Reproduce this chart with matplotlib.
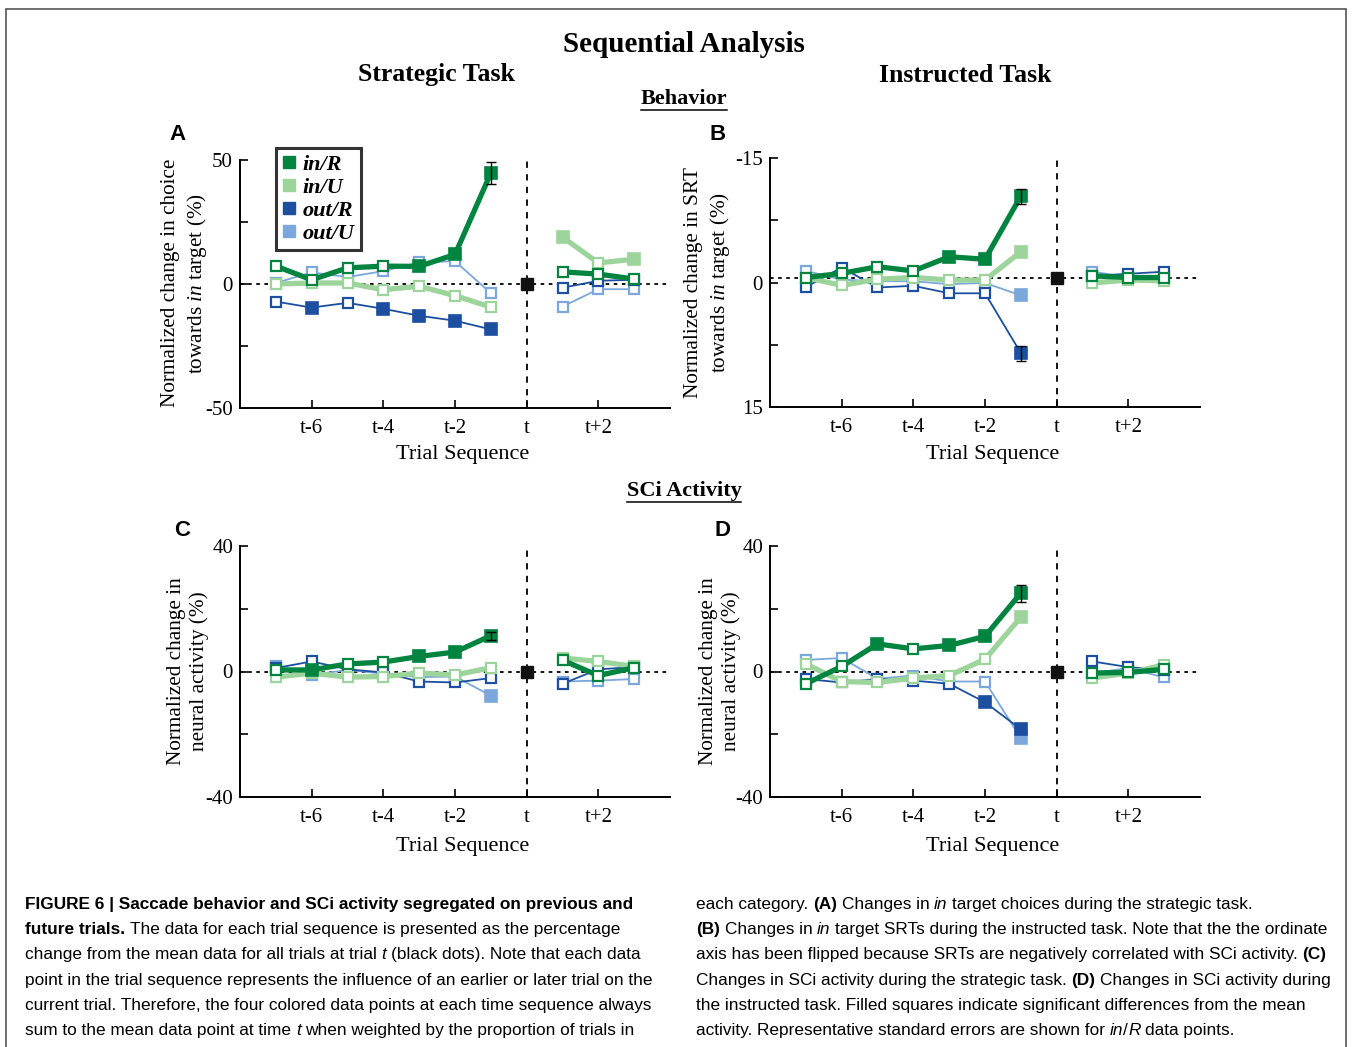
import matplotlib
matplotlib.use("Agg")
import matplotlib.pyplot as plt
import numpy as np
from matplotlib import font_manager
from matplotlib.lines import Line2D
from matplotlib.patches import Rectangle

# trial offsets relative to trial t
x_past = [-7, -6, -5, -4, -3, -2, -1]
x_future = [1, 2, 3]
tick_pos = [-6, -4, -2, 0, 2]
tick_labels = ['t-6', 't-4', 't-2', 't', 't+2']
series_names = ['in/R', 'in/U', 'out/R', 'out/U']

# panel A: choice (%) -- 7 past values then 3 future values
a_in_r = [7.2, 1.7, 6.5, 7.2, 7.1, 11.9, 44.7, 4.9, 4.0, 2.0]
a_in_u = [0.0, 0.4, 0.4, -2.3, -0.9, -4.7, -9.3, 18.9, 8.5, 10.0]
a_out_r = [-7.1, -9.5, -7.6, -10.0, -12.8, -14.8, -18.3, -1.5, 1.3, 1.7]
a_out_u = [0.4, 4.7, 2.8, 5.2, 8.7, 9.2, -3.7, -9.1, -2.1, -2.1]
a_in_r_sig = [0, 0, 0, 0, 1, 1, 1, 0, 0, 0]
a_in_u_sig = [0, 0, 0, 0, 0, 0, 0, 1, 0, 1]
a_out_r_sig = [0, 1, 0, 1, 1, 1, 1, 0, 0, 0]
a_out_u_sig = [0, 0, 0, 0, 0, 0, 0, 0, 0, 0]
a_mean = 0.0
a_err = 4.3

# panel B: SRT (%)
b_in_r = [-0.6, -1.1, -1.9, -1.4, -3.1, -2.8, -10.4, -0.8, -0.6, -0.6]
b_in_u = [-0.6, 0.35, -0.4, -0.6, -0.3, -0.3, -3.7, 0.05, -0.3, -0.2]
b_out_r = [0.55, -1.8, 0.6, 0.4, 1.3, 1.3, 8.5, -0.8, -1.05, -1.3]
b_out_u = [-1.4, -0.35, -0.15, -0.15, 0.2, 0.05, 1.55, -1.3, -0.65, -0.65]
b_in_r_sig = [0, 0, 0, 0, 1, 1, 1, 0, 0, 0]
b_in_u_sig = [0, 0, 0, 0, 0, 0, 1, 0, 0, 0]
b_out_r_sig = [0, 0, 0, 0, 0, 0, 1, 0, 0, 0]
b_out_u_sig = [0, 0, 0, 0, 0, 0, 1, 0, 0, 0]
b_mean = -0.6
b_err = 0.9
b_err_out = 0.9

# panel C: SCi activity, strategic task (%)
c_in_r = [0.5, 0.5, 2.4, 3.0, 4.8, 6.2, 11.4, 3.6, -1.3, 1.2]
c_in_u = [-1.8, -0.5, -1.8, -1.6, -0.5, -1.1, 1.2, 4.3, 3.2, 1.6]
c_out_r = [1.1, 3.2, 0.7, -0.3, -3.2, -3.5, -2.1, -3.9, 0.7, 1.4]
c_out_u = [1.6, -1.1, 0.5, -0.7, -1.8, -1.6, -7.7, -3.2, -2.9, -2.4]
c_in_r_sig = [0, 1, 0, 0, 1, 1, 1, 0, 0, 0]
c_in_u_sig = [0, 0, 0, 0, 0, 0, 0, 0, 0, 0]
c_out_r_sig = [0, 0, 0, 0, 0, 0, 0, 0, 0, 0]
c_out_u_sig = [0, 0, 0, 0, 0, 0, 1, 0, 0, 0]
c_mean = 0.0
c_err = 1.3

# panel D: SCi activity, instructed task (%)
d_in_r = [-3.9, 1.6, 8.8, 7.2, 8.3, 11.2, 25.0, -0.5, -0.3, 0.7]
d_in_u = [2.4, -3.2, -3.5, -2.1, -1.3, 3.9, 17.3, -2.1, -0.5, 2.1]
d_out_r = [-2.4, -3.5, -2.4, -2.9, -3.9, -9.8, -18.4, 3.2, 1.4, 0.5]
d_out_u = [3.7, 4.3, -2.3, -1.3, -3.2, -3.2, -21.3, -0.5, 1.1, -1.9]
d_in_r_sig = [0, 0, 1, 0, 1, 1, 1, 0, 0, 0]
d_in_u_sig = [0, 0, 0, 0, 0, 0, 1, 0, 0, 0]
d_out_r_sig = [0, 0, 0, 0, 0, 1, 1, 0, 0, 0]
d_out_u_sig = [0, 0, 0, 0, 0, 0, 1, 0, 0, 0]
d_mean = 0.0
d_err = 2.7

colors = {'in/R': '#00843f', 'in/U': '#9dd49b', 'out/R': '#1c4f9f', 'out/U': '#7ba7dc'}
widths = {'in/R': 3.8, 'in/U': 3.8, 'out/R': 1.3, 'out/U': 1.3}

W, H = 1354, 1047
plt.rcParams['font.family'] = 'Liberation Serif'
plt.rcParams['font.size'] = 15
plt.rcParams['mathtext.fontset'] = 'custom'
plt.rcParams['mathtext.it'] = 'Liberation Serif:italic'
plt.rcParams['mathtext.rm'] = 'Liberation Serif'

names = {f.name for f in font_manager.fontManager.ttflist}
cap_font = 'Liberation Sans Narrow' if 'Liberation Sans Narrow' in names else 'Liberation Sans'
cap_size = 13 if cap_font == 'Liberation Sans Narrow' else 12.4

fig = plt.figure(figsize=(W / 100, H / 100), dpi=100)
renderer = fig.canvas.get_renderer()


def fx(x):
    return x / W


def fy(y):
    return 1 - y / H


def box(x0, y0, x1, y1):
    return [fx(x0), fy(y1), (x1 - x0) / W, (y1 - y0) / H]


def panel(rect, data, sigs, ylim, yticks, ylabels, mean, errs):
    ax = fig.add_axes(rect)
    ax.set_xlim(-8, 4)
    ax.set_ylim(*ylim)
    for s in ['top', 'right']:
        ax.spines[s].set_visible(False)
    for s in ['left', 'bottom']:
        ax.spines[s].set_linewidth(1.4)
    ax.set_xticks(tick_pos)
    ax.set_xticklabels(tick_labels)
    ax.set_yticks(yticks)
    ax.set_yticklabels(ylabels)
    ax.tick_params(direction='in', length=6, width=1.2, pad=5, labelsize=15)
    ax.tick_params(axis='x', pad=8)
    ax.axhline(mean, color='k', ls=(0, (2, 2.5)), lw=1.3, zorder=1)
    ax.axvline(0, color='k', ls=(0, (3.5, 3.5)), lw=1.3, zorder=1)
    order = ['out/U', 'out/R', 'in/U', 'in/R']
    for k, name in enumerate(order):
        i = series_names.index(name)
        y = np.array(data[i], dtype=float)
        sig = np.array(sigs[i], dtype=bool)
        xs = np.array(x_past + x_future)
        c = colors[name]
        z = 2 + k
        ax.plot(x_past, y[:7], color=c, lw=widths[name], zorder=z, solid_joinstyle='miter')
        ax.plot(x_future, y[7:], color=c, lw=widths[name], zorder=z, solid_joinstyle='miter')
        ax.plot(xs[~sig], y[~sig], 's', ms=7.5, mfc='white', mec=c, mew=1.6, zorder=z + 0.5, ls='none')
        ax.plot(xs[sig], y[sig], 's', ms=8, mfc=c, mec=c, mew=1.2, zorder=z + 0.5, ls='none')
    for name, err in errs:
        i = series_names.index(name)
        ax.errorbar(-1, data[i][6], yerr=err, fmt='none', ecolor='k', elinewidth=1.0,
                    capsize=3.5, capthick=1.0, zorder=10)
    ax.plot(0, mean, 's', ms=8, color='#111111', zorder=11)
    return ax


ax_a = panel(box(240, 160, 670, 408), [a_in_r, a_in_u, a_out_r, a_out_u],
             [a_in_r_sig, a_in_u_sig, a_out_r_sig, a_out_u_sig], (-50, 50),
             [-50, -25, 0, 25, 50], ['-50', '', '0', '', '50'], a_mean, [('in/R', a_err)])
ax_b = panel(box(770, 158, 1200, 407), [b_in_r, b_in_u, b_out_r, b_out_u],
             [b_in_r_sig, b_in_u_sig, b_out_r_sig, b_out_u_sig], (15, -15),
             [-15, -7.5, 0, 7.5, 15], ['-15', '', '0', '', '15'], b_mean,
             [('in/R', b_err), ('out/R', b_err_out)])
ax_c = panel(box(240, 546, 670, 797), [c_in_r, c_in_u, c_out_r, c_out_u],
             [c_in_r_sig, c_in_u_sig, c_out_r_sig, c_out_u_sig], (-40, 40),
             [-40, -20, 0, 20, 40], ['-40', '', '0', '', '40'], c_mean, [('in/R', c_err)])
ax_d = panel(box(770, 546, 1200, 797), [d_in_r, d_in_u, d_out_r, d_out_u],
             [d_in_r_sig, d_in_u_sig, d_out_r_sig, d_out_u_sig], (-40, 40),
             [-40, -20, 0, 20, 40], ['-40', '', '0', '', '40'], d_mean, [('in/R', d_err)])

# legend in panel A
handles = [Line2D([], [], marker='s', ls='none', ms=9, mfc=colors[n], mec=colors[n]) for n in series_names]
leg = fig.legend(handles, series_names, loc='upper left', bbox_to_anchor=(fx(276), fy(148)),
                 frameon=True, fancybox=False, handlelength=0.6, handletextpad=0.3,
                 labelspacing=0.1, borderpad=0.3, borderaxespad=0,
                 prop={'family': 'Liberation Serif', 'weight': 'bold', 'style': 'italic', 'size': 16})
leg.get_frame().set_edgecolor('k')
leg.get_frame().set_linewidth(2.2)

# axis labels
ylab_kw = dict(rotation=90, ha='center', va='center', multialignment='center',
               fontsize=15.3, linespacing=1.25)
fig.text(fx(185), fy(283), 'Normalized change in choice\ntowards $\\mathit{in}$ target (%)', **ylab_kw)
fig.text(fx(708), fy(282), 'Normalized change in SRT\ntowards $\\mathit{in}$ target (%)', **ylab_kw)
fig.text(fx(188), fy(671), 'Normalized change in\nneural activity (%)', **ylab_kw)
fig.text(fx(720), fy(671), 'Normalized change in\nneural activity (%)', **ylab_kw)
for x, y in [(463, 451), (993, 451), (463, 844), (993, 844)]:
    fig.text(fx(x), fy(y + 3), 'Trial Sequence', ha='center', va='center', fontsize=16)

for letter, x, y in [('A', 178, 133), ('B', 718, 133), ('C', 182, 528), ('D', 722, 528)]:
    fig.text(fx(x), fy(y + 2), letter, ha='center', va='center', fontsize=16,
             fontweight='bold', family='Liberation Sans')

# titles
fig.text(fx(684), fy(45), 'Sequential Analysis', ha='center', va='center', fontsize=21, fontweight='bold')
fig.text(fx(436), fy(75), 'Strategic Task', ha='center', va='center', fontsize=18.5, fontweight='bold')
fig.text(fx(965), fy(75), 'Instructed Task', ha='center', va='center', fontsize=18.5, fontweight='bold')
for label, y in [('Behavior', 99), ('SCi Activity', 491)]:
    t = fig.text(fx(684), fy(y), label, ha='center', va='center', fontsize=16, fontweight='bold')
    bb = t.get_window_extent(renderer)
    fig.add_artist(Line2D([bb.x0 / W, bb.x1 / W], [(bb.y0 - 1) / H] * 2, color='k', lw=1.1))

# frame around the figure
fig.add_artist(Rectangle((fx(6), fy(1060)), (1346 - 6) / W, (1060 - 9) / H, fill=False,
                         edgecolor='#555555', lw=1.2))

# caption
space_w = None


def rich_line(x, y, segments):
    global space_w
    if space_w is None:
        t1 = fig.text(0, 0, 'a a', fontsize=cap_size, family=cap_font)
        t2 = fig.text(0, 0, 'aa', fontsize=cap_size, family=cap_font)
        space_w = t1.get_window_extent(renderer).width - t2.get_window_extent(renderer).width
        t1.remove()
        t2.remove()
    for txt, style in segments:
        lead = len(txt) - len(txt.lstrip(' '))
        trail = len(txt) - len(txt.rstrip(' '))
        x += lead * space_w
        core = txt.strip(' ')
        if core:
            t = fig.text(fx(x), fy(y), core, fontsize=cap_size, family=cap_font, va='baseline',
                         fontweight='bold' if 'b' in style else 'normal',
                         fontstyle='italic' if 'i' in style else 'normal')
            x += t.get_window_extent(renderer).width
        x += trail * space_w


left_lines = [
    [('FIGURE 6 | Saccade behavior and SCi activity segregated on previous and', 'b')],
    [('future trials.', 'b'), (' The data for each trial sequence is presented as the percentage', '')],
    [('change from the mean data for all trials at trial ', ''), ('t', 'i'), (' (black dots). Note that each data', '')],
    [('point in the trial sequence represents the influence of an earlier or later trial on the', '')],
    [('current trial. Therefore, the four colored data points at each time sequence always', '')],
    [('sum to the mean data point at time ', ''), ('t', 'i'), (' when weighted by the proportion of trials in', '')],
]
right_lines = [
    [('each category. ', ''), ('(A)', 'b'), (' Changes in ', ''), ('in', 'i'), (' target choices during the strategic task.', '')],
    [('(B)', 'b'), (' Changes in ', ''), ('in', 'i'), (' target SRTs during the instructed task. Note that the the ordinate', '')],
    [('axis has been flipped because SRTs are negatively correlated with SCi activity. ', ''), ('(C)', 'b')],
    [('Changes in SCi activity during the strategic task. ', ''), ('(D)', 'b'), (' Changes in SCi activity during', '')],
    [('the instructed task. Filled squares indicate significant differences from the mean', '')],
    [('activity. Representative standard errors are shown for ', ''), ('in', 'i'), ('/', ''), ('R', 'i'), (' data points.', '')],
]
baselines = [909, 934, 959, 985, 1010, 1035]
for segs, y in zip(left_lines, baselines):
    rich_line(25, y, segs)
for segs, y in zip(right_lines, baselines):
    rich_line(696, y, segs)

fig.savefig('out.png', dpi=100)
